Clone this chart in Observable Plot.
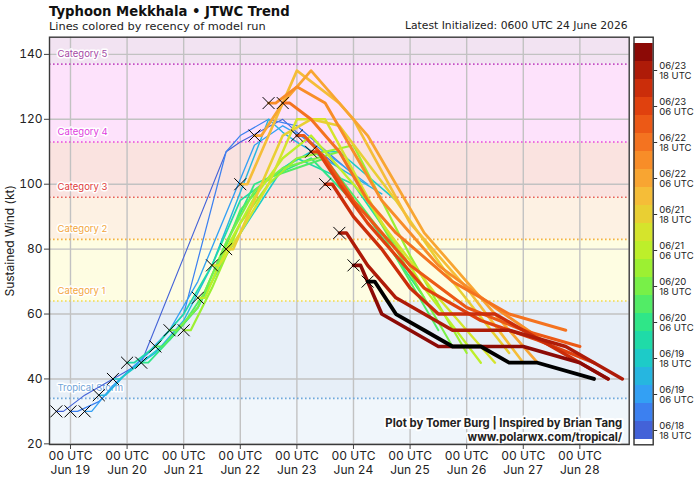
<!DOCTYPE html>
<html>
<head>
<meta charset="utf-8">
<script src="https://cdn.jsdelivr.net/npm/d3@7"></script>
<script src="https://cdn.jsdelivr.net/npm/@observablehq/plot@0.6"></script>
<style>
  body { margin: 0; background: #fff; font-family: Inter, "DejaVu Sans", sans-serif; }
  #wrap { position: relative; width: 699px; height: 482px; overflow: hidden; }
  .head { position: absolute; white-space: nowrap; color: #111; line-height: 1; font-family: "DejaVu Sans", sans-serif; }
  #title { left: 49px; top: 5px; font-size: 15px; font-weight: 700; }
  #subtitle { left: 49px; top: 21px; font-size: 12px; color: #222; }
  #latest { left: 405px; top: 21px; font-size: 12px; color: #222; }
  #main { position: absolute; left: 0; top: 0; }
  #bar { position: absolute; left: 630px; top: 0; }
</style>
</head>
<body>
<div id="wrap">
  <div id="main"></div>
  <div id="bar"></div>
  <div class="head" id="title">Typhoon Mekkhala • JTWC Trend</div>
  <div class="head" id="subtitle">Lines colored by recency of model run</div>
  <div class="head" id="latest">Latest Initialized: 0600 UTC 24 June 2026</div>
</div>
<script>
// JTWC warning initialization times (every 6 h) and initial intensities (kt)
const runInits = [
  "2026-06-18T18:00Z", "2026-06-19T00:00Z", "2026-06-19T06:00Z", "2026-06-19T12:00Z",
  "2026-06-19T18:00Z", "2026-06-20T00:00Z", "2026-06-20T06:00Z", "2026-06-20T12:00Z",
  "2026-06-20T18:00Z", "2026-06-21T00:00Z", "2026-06-21T06:00Z", "2026-06-21T12:00Z",
  "2026-06-21T18:00Z", "2026-06-22T00:00Z", "2026-06-22T06:00Z", "2026-06-22T12:00Z",
  "2026-06-22T18:00Z", "2026-06-23T00:00Z", "2026-06-23T06:00Z", "2026-06-23T12:00Z",
  "2026-06-23T18:00Z", "2026-06-24T00:00Z", "2026-06-24T06:00Z"
];
const initWinds = [30, 30, 30, 35, 40, 45, 45, 50, 55, 55, 65, 75, 80, 100, 115, 125, 125, 115, 110, 100, 85, 75, 70];

// Forecast intensity tracks: [hours after initialization, kt]
const fc0618_18 = [[0,30],[3,30],[12,35],[24,40],[36,45],[72,110],[78,113],[96,120],[102,116],[120,105]];
const fc0619_00 = [[0,30],[3,30],[12,33],[24,42],[36,50],[48,60],[66,110],[72,115],[84,120],[96,118],[120,103]];
const fc0619_06 = [[0,30],[3,30],[12,38],[24,46],[36,55],[48,70],[72,112],[84,118],[96,113],[120,100]];
const fc0619_12 = [[0,35],[3,35],[12,42],[24,48],[36,58],[48,75],[72,120],[78,116],[84,113],[102,105],[120,97]];
const fc0619_18 = [[0,40],[3,40],[12,45],[24,52],[36,62],[48,78],[72,105],[84,110],[96,110],[120,95]];
const fc0620_00 = [[0,45],[3,45],[12,50],[24,60],[36,75],[48,95],[72,108],[96,100],[120,75]];
const fc0620_06 = [[0,45],[3,45],[12,52],[24,62],[36,82],[48,100],[72,108],[96,90],[120,65]];
const fc0620_12 = [[0,50],[3,50],[12,57],[24,70],[36,92],[48,102],[72,108],[96,85],[120,55]];
const fc0620_18 = [[0,55],[3,55],[12,62],[24,82],[36,98],[48,105],[72,110],[96,80],[120,50]];
const fc0621_00 = [[0,55],[3,55],[12,68],[24,88],[36,100],[48,108],[72,112],[96,78],[120,48]];
const fc0621_06 = [[0,65],[3,65],[12,80],[24,96],[36,108],[48,115],[72,95],[96,68],[120,45]];
const fc0621_12 = [[0,75],[3,75],[12,85],[24,100],[36,120],[48,120],[72,88],[96,65],[120,45]];
const fc0621_18 = [[0,80],[3,80],[12,95],[24,115],[36,120],[48,118],[72,95],[96,70],[120,48]];
const fc0622_00 = [[0,100],[3,100],[12,115],[24,135],[42,125],[48,120],[72,88],[96,68],[120,45]];
const fc0622_06 = [[0,115],[3,115],[12,125],[24,135],[36,125],[48,115],[72,85],[96,65],[120,45]];
const fc0622_12 = [[0,125],[3,125],[12,130],[24,125],[36,110],[48,95],[72,75],[96,62],[120,50]];
const fc0622_18 = [[0,125],[3,125],[12,120],[24,110],[36,95],[48,85],[72,70],[84,65],[96,60],[120,55]];
const fc0623_00 = [[0,115],[3,115],[12,108],[24,95],[36,85],[48,75],[72,62],[96,55],[120,50]];
const fc0623_06 = [[0,110],[3,110],[12,100],[24,88],[36,78],[48,68],[72,58],[96,52],[120,45]];
const fc0623_12 = [[0,100],[3,100],[12,90],[24,80],[36,68],[48,60],[72,60],[96,50],[120,40]];
const fc0623_18 = [[0,85],[3,85],[12,75],[24,65],[48,55],[72,55],[96,50],[120,40]];
const fc0624_00 = [[0,75],[3,75],[12,60],[36,50],[72,50],[96,45],[108,40]];
const fc0624_06 = [[0,70],[3,70],[12,60],[24,55],[36,50],[48,50],[60,45],[72,45],[96,40]];
const forecasts = [
  fc0618_18, fc0619_00, fc0619_06, fc0619_12, fc0619_18, fc0620_00, fc0620_06, fc0620_12,
  fc0620_18, fc0621_00, fc0621_06, fc0621_12, fc0621_18, fc0622_00, fc0622_06, fc0622_12,
  fc0622_18, fc0623_00, fc0623_06, fc0623_12, fc0623_18, fc0624_00, fc0624_06
];

// Saffir-Simpson categories: lower bound (kt) and label
const catNames = ["Tropical Storm", "Category 1", "Category 2", "Category 3", "Category 4", "Category 5"];
const catFloors = [34, 64, 83, 96, 113, 137];

// X-axis day ticks and y-axis ticks
const dayTicks = ["2026-06-19", "2026-06-20", "2026-06-21", "2026-06-22", "2026-06-23",
                  "2026-06-24", "2026-06-25", "2026-06-26", "2026-06-27", "2026-06-28"];
const windTicks = [20, 40, 60, 80, 100, 120, 140];

// ---- styling ----
const runColors = [
  "#4362d8", "#3c80f0", "#33a0f4", "#26b6e0", "#1dcbc8", "#1fdba8", "#2fe688", "#52ec66",
  "#78f048", "#9cf032", "#bdef2a", "#d5e42c", "#e9cf33", "#f5bd38", "#f8a532", "#f88d28",
  "#f47320", "#ec5916", "#e0410e", "#cb2d0a", "#ae1b08", "#8c0a06"
];
const bandFills = ["#f0f6fb", "#e7eff8", "#fefde2", "#fdf1e3", "#fae3e0", "#fde2fb", "#f2e3f2"];
const ruleColors = ["#6fa8dc", "#f3dc4a", "#f5b041", "#e8605a", "#e84ae0", "#c450c4"];
const labelColors = ["#6fa3d8", "#f3a640", "#f3a640", "#e03c3c", "#e040e0", "#a64aa6"];
const yDomain = [19.8, 145.3];

const fmtRun = d3.utcFormat("%m/%d %H UTC");
const runLabels = runInits.map(s => fmtRun(new Date(s)));
const colored = runLabels.slice(0, -1);

const rows = forecasts.map((fc, i) => {
  const t0 = new Date(runInits[i]).getTime();
  return fc.map(([tau, kt]) => ({run: runLabels[i], time: new Date(t0 + tau * 3600e3), kt}));
});
const markers = runInits.map((s, i) => ({time: new Date(s), kt: initWinds[i]}));

const bounds = [yDomain[0], ...catFloors, yDomain[1]];
const bands = bounds.slice(0, -1).map((lo, i) => ({lo, hi: bounds[i + 1], fill: bandFills[i]}));
const cats = catNames.map((name, i) => ({name, kt: catFloors[i], rule: ruleColors[i], label: labelColors[i]}));

// Older runs thin, newer runs thick; the latest run in black on top
const lineMarks = rows.map((r, i) => i < colored.length
  ? Plot.line(r, {x: "time", y: "kt", stroke: "run", strokeWidth: 1.1 + 2.5 * i / (colored.length - 1), strokeLinejoin: "round"})
  : Plot.line(r, {x: "time", y: "kt", stroke: "black", strokeWidth: 3.8, strokeLinejoin: "round"}));

const main = Plot.plot({
  width: 699, height: 482,
  marginLeft: 49, marginRight: 70.3, marginTop: 36.7, marginBottom: 38,
  style: {fontFamily: "Inter, sans-serif", fontSize: "12px", color: "#222", background: "transparent"},
  x: {type: "utc", domain: [new Date("2026-06-18T15:06Z"), new Date("2026-06-28T20:55Z")]},
  y: {domain: yDomain},
  color: {type: "ordinal", domain: colored, range: runColors},
  marks: [
    Plot.rect(bands, {y1: "lo", y2: "hi", fill: d => d.fill}),
    Plot.gridX(dayTicks.map(d => new Date(d)), {stroke: "#c2c2c2", strokeOpacity: 1, strokeWidth: 1.4}),
    Plot.gridY(windTicks, {stroke: "#c2c2c2", strokeOpacity: 1, strokeWidth: 1.4}),
    Plot.ruleY(cats, {y: "kt", stroke: d => d.rule, strokeWidth: 1.6, strokeDasharray: "1.6,2.4"}),
    Plot.text(cats, {y: "kt", text: "name", frameAnchor: "left", dx: 8, dy: -10.5, textAnchor: "start",
      fill: d => d.label, stroke: "white", strokeWidth: 3, fontSize: 9.5}),
    ...lineMarks,
    Plot.dot(markers, {x: "time", y: "kt", symbol: "times", r: 5.5, stroke: "black", strokeWidth: 1}),
    Plot.text(["Plot by Tomer Burg | Inspired by Brian Tang\nwww.polarwx.com/tropical/"], {
      frameAnchor: "bottom-right", textAnchor: "end", lineAnchor: "bottom", dx: -7, dy: -4,
      fontWeight: "bold", fontSize: 11.3, lineHeight: 1.18, fill: "#222", stroke: "white", strokeWidth: 4}),
    Plot.axisX(dayTicks.map(d => new Date(d)), {tickFormat: d3.utcFormat("00 UTC\n%b %-d"), tickSize: 5, tickPadding: 1.5,
      lineHeight: 1.1, label: null, stroke: "#444"}),
    Plot.axisY(windTicks, {tickSize: 5, tickPadding: 2, label: null, stroke: "#444"}),
    Plot.text(["Sustained Wind (kt)"], {frameAnchor: "left", dx: -39, rotate: -90, textAnchor: "middle", fontSize: 12, fill: "#222"}),
    Plot.frame({stroke: "#3a3a3a", strokeWidth: 1.4})
  ]
});
document.getElementById("main").append(main);

// Colour bar: one block per model run
const bar = Plot.plot({
  width: 69, height: 482,
  marginLeft: 3.5, marginRight: 46.3, marginTop: 36.7, marginBottom: 37.7,
  style: {fontFamily: "Inter, sans-serif", fontSize: "9.5px", color: "#222", background: "transparent"},
  x: {domain: [0, 1], axis: null},
  y: {type: "band", domain: colored.slice().reverse(), padding: 0},
  color: {type: "ordinal", domain: colored, range: runColors},
  marks: [
    Plot.barX(colored, {y: d => d, x1: 0, x2: 1, fill: d => d}),
    Plot.axisY(colored.filter((d, i) => i % 2 === 0), {anchor: "right", tickSize: 3.5, tickPadding: 2.5,
      tickFormat: d => d.replace(" ", "\n"), lineHeight: 1.15, label: null, stroke: "#333"}),
    Plot.frame({stroke: "#333", strokeWidth: 1.4})
  ]
});
document.getElementById("bar").append(bar);

// Fit the header lines to their widths
function fitWidth(id, target) {
  const el = document.getElementById(id);
  const w = el.getBoundingClientRect().width;
  const fs = parseFloat(getComputedStyle(el).fontSize);
  el.style.fontSize = (fs * target / w) + "px";
}
fitWidth("title", 241);
fitWidth("subtitle", 217);
fitWidth("latest", 223);
</script>
</body>
</html>
